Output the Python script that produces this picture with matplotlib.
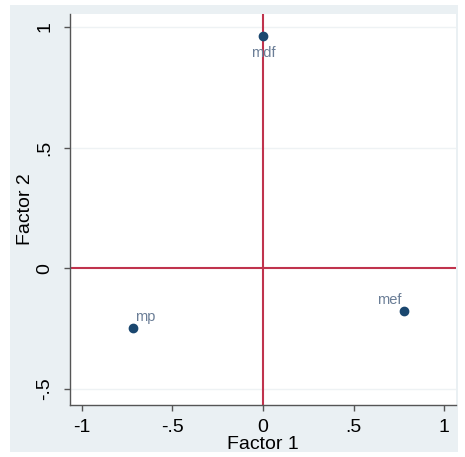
import matplotlib.pyplot as plt
from matplotlib.patches import Rectangle

plt.rcParams['font.family'] = ['Liberation Sans', 'DejaVu Sans']

names = ['mdf', 'mp', 'mef']
factor1 = [0.0, -0.72, 0.78]
factor2 = [0.963, -0.249, -0.178]

fig = plt.figure(figsize=(4.65, 4.57), dpi=100)
fig.patch.set_facecolor('white')
# stata-style light background panel
fig.patches.append(Rectangle((10 / 465, 5 / 457), 448 / 465, 447 / 457,
                             transform=fig.transFigure, facecolor='#eaf0f3',
                             edgecolor='none', zorder=-10))

ax = fig.add_axes([70 / 465, 1 - 405 / 457, 386 / 465, 391 / 457])
ax.set_facecolor('white')

ax.set_xlim(-1.066, 1.066)
ax.set_ylim(-0.568, 1.054)

for y in [-0.5, 0.5, 1]:
    ax.axhline(y, color='#eef2f4', lw=1, zorder=1)

ax.axhline(0, color='#c0334d', lw=1.5, zorder=2)
ax.axvline(0, color='#c0334d', lw=1.5, zorder=2)

ax.scatter(factor1, factor2, s=36, color='#1a476f', zorder=3)

lab_color = '#6a7d96'
ax.annotate(names[0], (factor1[0], factor2[0]), xytext=(0, -7),
            textcoords='offset points', ha='center', va='top',
            fontsize=10.5, color=lab_color, zorder=4)
ax.annotate(names[1], (factor1[1], factor2[1]), xytext=(2, 3),
            textcoords='offset points', ha='left', va='bottom',
            fontsize=10.5, color=lab_color, zorder=4)
ax.annotate(names[2], (factor1[2], factor2[2]), xytext=(-2, 3),
            textcoords='offset points', ha='right', va='bottom',
            fontsize=10.5, color=lab_color, zorder=4)

ax.set_xticks([-1, -0.5, 0, 0.5, 1])
ax.set_xticklabels(['-1', '-.5', '0', '.5', '1'])
ax.set_yticks([-0.5, 0, 0.5, 1])
ax.set_yticklabels(['-.5', '0', '.5', '1'], rotation=90, va='center')

for side in ['top', 'right']:
    ax.spines[side].set_visible(False)
for side in ['left', 'bottom']:
    ax.spines[side].set_color('#555555')
    ax.spines[side].set_linewidth(1)

ax.tick_params(axis='both', colors='#555555', labelcolor='black',
               labelsize=14, length=4, width=1)
ax.tick_params(axis='x', pad=6)
ax.tick_params(axis='y', pad=8)

ax.set_xlabel('Factor 1', fontsize=14, labelpad=0)
ax.set_ylabel('Factor 2', fontsize=14, labelpad=2)

fig.savefig('out.png', dpi=100, facecolor=fig.get_facecolor())
